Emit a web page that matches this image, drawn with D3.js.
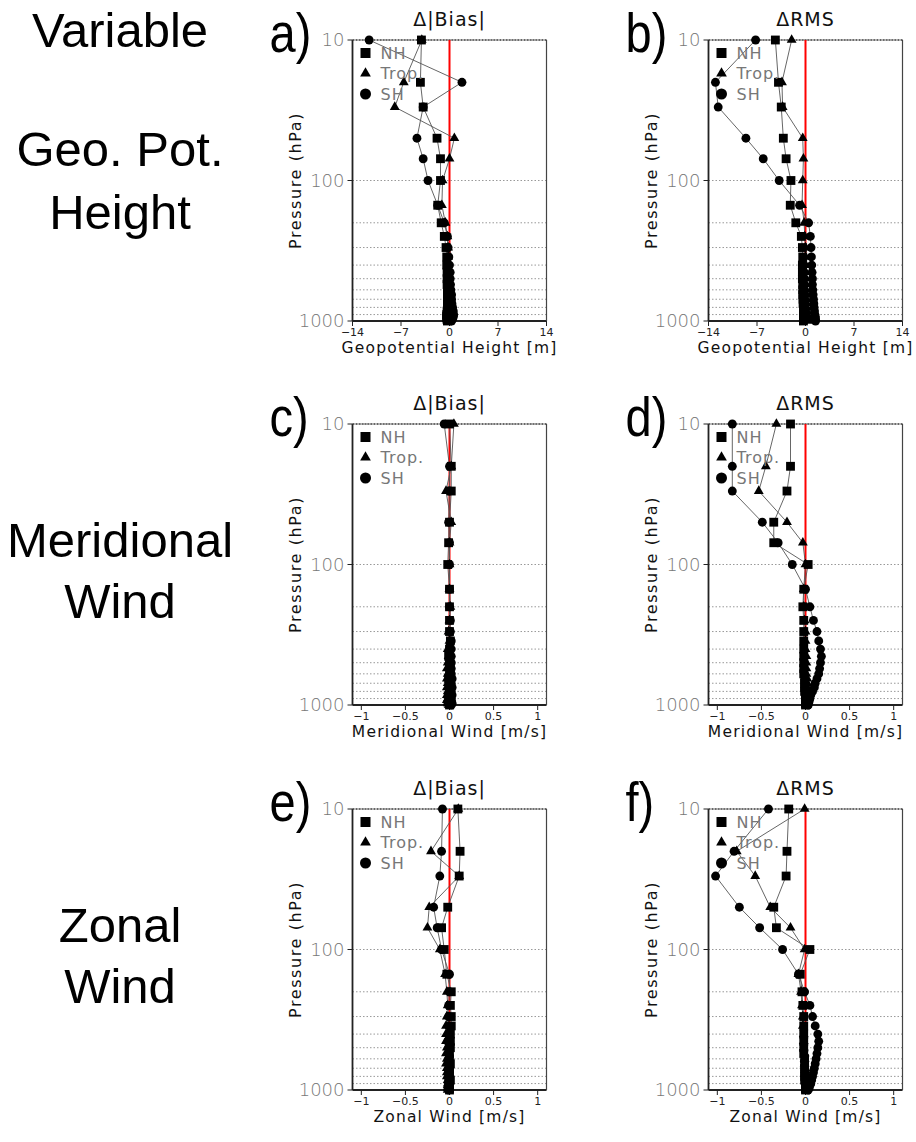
<!DOCTYPE html>
<html>
<head>
<meta charset="utf-8">
<title>Delta Bias / RMS profiles</title>
<script src="https://d3js.org/d3.v7.min.js"></script>
<style>
  body { margin: 0; background: #fff; }
  .side { font-family: "Liberation Sans", Arial, sans-serif; font-size: 49px; fill: #000; }
  .letter { font-family: "Liberation Sans", Arial, sans-serif; font-size: 56px; fill: #000; }
  .ttl { font-family: "DejaVu Sans", sans-serif; font-size: 19px; fill: #111; letter-spacing: 1px; }
  .ytick { font-family: "DejaVu Sans", sans-serif; font-size: 18px; fill: #777; font-weight: 300; }
  .xtick { font-family: "DejaVu Sans", sans-serif; font-size: 11px; fill: #222; }
  .xlab { font-family: "DejaVu Sans", sans-serif; font-size: 15.5px; fill: #111; letter-spacing: 1.2px; }
  .ylab { font-family: "DejaVu Sans", sans-serif; font-size: 16px; fill: #111; letter-spacing: 1.6px; }
  .leg { font-family: "DejaVu Sans", sans-serif; font-size: 16px; fill: #777; letter-spacing: 1px; }
</style>
</head>
<body>
<div id="chart"></div>
<script>
// pressure levels (hPa)
const levels = [10,20,30,50,70,100,150,200,250,300,350,400,450,500,550,600,650,700,750,800,850,900,925,950,975,1000];
const gridLevels = [10,100,200,300,400,500,600,700,800,900,1000];
const seriesNames = ["NH", "Trop.", "SH"];

// a) geopotential height, delta |bias|
const geoBiasNH   = [-4.05,-4.2,-3.8,-1.8,-1.3,-1.3,-1.7,-1.2,-0.75,-0.5,-0.4,-0.4,-0.35,-0.35,-0.35,-0.3,-0.3,-0.3,-0.3,-0.3,-0.35,-0.4,-0.4,-0.4,-0.35,-0.3];
const geoBiasTrop = [-4.0,-6.6,-7.9,0.7,0.0,-1.0,-1.1,-0.6,-0.3,-0.2,-0.2,-0.2,-0.15,-0.15,-0.1,-0.1,-0.1,-0.1,-0.1,-0.1,-0.1,-0.1,-0.1,-0.1,-0.1,-0.1];
const geoBiasSH   = [-11.6,1.8,-3.8,-4.7,-3.8,-3.1,-1.7,-0.75,-0.3,-0.2,-0.1,0.0,0.1,0.1,0.15,0.2,0.3,0.3,0.35,0.45,0.55,0.6,0.55,0.5,0.4,0.3];

// b) geopotential height, delta RMS
const geoRmsNH   = [-4.35,-3.9,-3.5,-3.2,-2.8,-2.1,-2.2,-1.4,-0.6,-0.45,-0.4,-0.45,-0.45,-0.45,-0.4,-0.4,-0.4,-0.35,-0.35,-0.3,-0.3,-0.3,-0.3,-0.3,-0.3,-0.3];
const geoRmsTrop = [-2.0,-3.4,-3.3,-0.4,-0.3,-0.4,-0.5,-0.2,-0.1,0.0,0.0,0.05,0.05,0.1,0.1,0.1,0.15,0.15,0.2,0.2,0.25,0.3,0.3,0.35,0.35,0.4];
const geoRmsSH   = [-7.2,-13.0,-12.6,-8.6,-6.1,-3.8,-0.85,0.45,0.7,0.8,0.85,0.9,0.95,1.0,1.0,1.05,1.1,1.15,1.2,1.25,1.3,1.35,1.4,1.4,1.45,1.45];

// c) meridional wind, delta |bias|
const vBiasNH   = [0.0,0.02,0.02,0.0,-0.01,-0.02,0.0,0.0,0.0,0.0,0.01,0.0,-0.01,0.0,0.01,0.0,-0.01,0.0,0.01,0.0,0.0,-0.01,0.0,0.01,0.0,0.0];
const vBiasTrop = [0.05,0.02,-0.04,0.02,0.0,0.0,0.0,0.01,0.0,-0.01,0.0,-0.02,-0.01,-0.02,-0.03,-0.02,-0.03,-0.02,-0.03,-0.02,-0.03,-0.02,-0.03,-0.02,-0.02,-0.01];
const vBiasSH   = [-0.06,0.0,0.0,-0.01,0.0,0.0,0.0,0.0,0.01,0.01,0.02,0.02,0.02,0.02,0.02,0.02,0.03,0.02,0.03,0.02,0.03,0.02,0.02,0.02,0.03,0.02];

// d) meridional wind, delta RMS
const vRmsNH   = [-0.17,-0.17,-0.21,-0.36,-0.36,0.03,-0.02,-0.03,-0.02,-0.02,-0.02,-0.02,-0.02,-0.02,-0.02,-0.02,-0.01,-0.01,-0.01,-0.01,0.0,0.0,0.0,0.0,0.0,0.0];
const vRmsTrop = [-0.33,-0.45,-0.53,-0.21,-0.03,0.0,-0.02,-0.02,-0.01,0.0,0.0,0.0,0.01,0.01,0.01,0.01,0.02,0.02,0.02,0.02,0.02,0.02,0.02,0.02,0.02,0.02];
const vRmsSH   = [-0.83,-0.83,-0.83,-0.49,-0.31,-0.15,0.0,0.05,0.09,0.13,0.15,0.17,0.18,0.17,0.16,0.15,0.13,0.11,0.1,0.08,0.06,0.05,0.04,0.04,0.03,0.03];

// e) zonal wind, delta |bias|
const uBiasNH   = [0.095,0.12,0.11,-0.02,-0.09,-0.06,-0.03,0.02,0.01,0.02,0.02,0.01,0.01,0.01,0.0,0.0,0.01,0.0,0.0,0.0,0.01,0.0,0.0,0.0,0.0,0.0];
const uBiasTrop = [0.1,-0.21,0.11,-0.23,-0.25,-0.11,-0.05,-0.03,-0.02,-0.03,-0.04,-0.04,-0.04,-0.03,-0.04,-0.03,-0.04,-0.03,-0.03,-0.03,-0.02,-0.02,-0.02,-0.02,-0.02,-0.02];
const uBiasSH   = [-0.08,-0.09,-0.11,-0.18,-0.14,-0.09,0.0,0.0,-0.01,-0.01,-0.01,-0.01,-0.02,-0.01,-0.01,-0.01,-0.01,-0.01,-0.01,-0.01,-0.01,-0.01,-0.01,-0.01,-0.01,-0.01];

// f) zonal wind, delta RMS
const uRmsNH   = [-0.19,-0.21,-0.22,-0.36,-0.33,0.05,-0.06,-0.04,-0.03,-0.02,-0.02,-0.02,-0.02,-0.02,-0.02,-0.01,-0.01,-0.01,-0.01,-0.01,-0.01,0.0,0.0,0.0,0.0,0.0];
const uRmsTrop = [-0.01,-0.78,-0.57,-0.40,-0.17,-0.01,-0.08,-0.05,-0.04,-0.03,-0.03,-0.02,-0.02,-0.02,-0.01,-0.01,-0.01,0.0,0.0,0.0,0.01,0.01,0.01,0.01,0.01,0.01];
const uRmsSH   = [-0.42,-0.81,-1.02,-0.75,-0.52,-0.26,-0.08,-0.01,0.05,0.08,0.11,0.14,0.15,0.14,0.13,0.12,0.11,0.1,0.09,0.08,0.07,0.06,0.05,0.04,0.04,0.03];

const geoTicks = [-14,-7,0,7,14];
const windTicks = [-1,-0.5,0,0.5,1];

const panels = [
  {id:"a", title:"Δ|Bias|", xlabel:"Geopotential Height [m]", dom:[-14,14], ticks:geoTicks, col:0, row:0, data:[geoBiasNH, geoBiasTrop, geoBiasSH]},
  {id:"b", title:"ΔRMS",   xlabel:"Geopotential Height [m]", dom:[-14,14], ticks:geoTicks, col:1, row:0, data:[geoRmsNH, geoRmsTrop, geoRmsSH]},
  {id:"c", title:"Δ|Bias|", xlabel:"Meridional Wind [m/s]", dom:[-1.1,1.1], ticks:windTicks, col:0, row:1, data:[vBiasNH, vBiasTrop, vBiasSH]},
  {id:"d", title:"ΔRMS",   xlabel:"Meridional Wind [m/s]", dom:[-1.1,1.1], ticks:windTicks, col:1, row:1, data:[vRmsNH, vRmsTrop, vRmsSH]},
  {id:"e", title:"Δ|Bias|", xlabel:"Zonal Wind [m/s]", dom:[-1.1,1.1], ticks:windTicks, col:0, row:2, data:[uBiasNH, uBiasTrop, uBiasSH]},
  {id:"f", title:"ΔRMS",   xlabel:"Zonal Wind [m/s]", dom:[-1.1,1.1], ticks:windTicks, col:1, row:2, data:[uRmsNH, uRmsTrop, uRmsSH]}
];

const sideLabels = [
  {lines:["Variable"], y:[47]},
  {lines:["Geo. Pot."], y:[166]},
  {lines:["Height"], y:[229]},
  {lines:["Meridional"], y:[557]},
  {lines:["Wind"], y:[618]},
  {lines:["Zonal"], y:[942]},
  {lines:["Wind"], y:[1003]}
];

const W = 916, H = 1142;
const colX = [352.5, 708.5], rowY = [40, 424, 809];
const pw = 194, ph = 281;

const svg = d3.select("#chart").append("svg").attr("width", W).attr("height", H);

sideLabels.forEach(s => {
  s.lines.forEach((t, i) => {
    svg.append("text").attr("class", "side").attr("x", 120).attr("y", s.y[i])
      .attr("text-anchor", "middle").text(t);
  });
});

const symbols = [d3.symbolSquare, d3.symbolTriangle, d3.symbolCircle];
const symSize = [78, 42, 62];
const legSize = [100, 50, 95];
const fmt = v => String(v).replace("-", "\u2212");

panels.forEach(p => {
  const x0 = colX[p.col], y0 = rowY[p.row];
  const g = svg.append("g").attr("transform", `translate(${x0},${y0})`);
  const x = d3.scaleLinear().domain(p.dom).range([0, pw]);
  const y = d3.scaleLog().domain([10, 1000]).range([0, ph]);

  // panel letter (narrowed to match the original's condensed face)
  svg.append("text").attr("class", "letter")
    .attr("transform", `translate(${x0 - 83},${y0 + 12}) scale(0.84,1)`).text(p.id + ")");

  // title
  g.append("text").attr("class", "ttl").attr("x", pw / 2).attr("y", -14)
    .attr("text-anchor", "middle").text(p.title);

  // grid
  g.selectAll(".grid").data(gridLevels).enter().append("line")
    .attr("x1", 0).attr("x2", pw).attr("y1", d => y(d)).attr("y2", d => y(d))
    .attr("stroke", "#999").attr("stroke-width", 1).attr("stroke-dasharray", "1.5,2");

  // frame
  g.append("line").attr("x1", 0).attr("x2", 0).attr("y1", 0).attr("y2", ph).attr("stroke", "#222").attr("stroke-width", 1.8);
  g.append("line").attr("x1", 0).attr("x2", pw).attr("y1", ph).attr("y2", ph).attr("stroke", "#222").attr("stroke-width", 1.8);
  g.append("line").attr("x1", pw).attr("x2", pw).attr("y1", 0).attr("y2", ph).attr("stroke", "#444").attr("stroke-width", 1.2);
  g.append("line").attr("x1", 0).attr("x2", pw).attr("y1", 0).attr("y2", 0).attr("stroke", "#444").attr("stroke-width", 1.6).attr("stroke-dasharray", "2,1");

  // y ticks
  [10, 100, 1000].forEach(v => {
    g.append("line").attr("x1", -5).attr("x2", 0).attr("y1", y(v)).attr("y2", y(v)).attr("stroke", "#222");
    g.append("text").attr("class", "ytick").attr("x", -8).attr("y", y(v)).attr("dy", "0.36em")
      .attr("text-anchor", "end").text(v);
  });
  g.append("text").attr("class", "ylab")
    .attr("transform", `translate(${-52},${ph / 2}) rotate(-90)`)
    .attr("text-anchor", "middle").text("Pressure (hPa)");

  // x ticks
  p.ticks.forEach(v => {
    g.append("line").attr("x1", x(v)).attr("x2", x(v)).attr("y1", ph).attr("y2", ph + 5).attr("stroke", "#222");
    g.append("text").attr("class", "xtick").attr("x", x(v)).attr("y", ph + 15)
      .attr("text-anchor", "middle").text(fmt(v));
  });
  g.append("text").attr("class", "xlab").attr("x", pw / 2).attr("y", ph + 32)
    .attr("text-anchor", "middle").text(p.xlabel);

  // zero line
  g.append("line").attr("x1", x(0)).attr("x2", x(0)).attr("y1", 0).attr("y2", ph)
    .attr("stroke", "#f00").attr("stroke-width", 2);

  // series lines
  const line = d3.line().x(d => x(d[0])).y(d => y(d[1]));
  p.data.forEach(vals => {
    g.append("path").datum(vals.map((v, i) => [v, levels[i]]))
      .attr("d", line).attr("fill", "none").attr("stroke", "#555").attr("stroke-width", 0.9);
  });
  // markers
  p.data.forEach((vals, si) => {
    g.selectAll(null).data(vals).enter().append("path")
      .attr("d", d3.symbol().type(symbols[si]).size(symSize[si]))
      .attr("transform", (d, i) => `translate(${x(d)},${y(levels[i])})`)
      .attr("fill", "#000");
  });

  // legend
  seriesNames.forEach((n, i) => {
    const ly = 13 + i * 20.5;
    g.append("path").attr("d", d3.symbol().type(symbols[i]).size(legSize[i]))
      .attr("transform", `translate(13,${ly})`).attr("fill", "#000");
    g.append("text").attr("class", "leg").attr("x", 28).attr("y", ly).attr("dy", "0.36em").text(n);
  });
});
</script>
</body>
</html>
